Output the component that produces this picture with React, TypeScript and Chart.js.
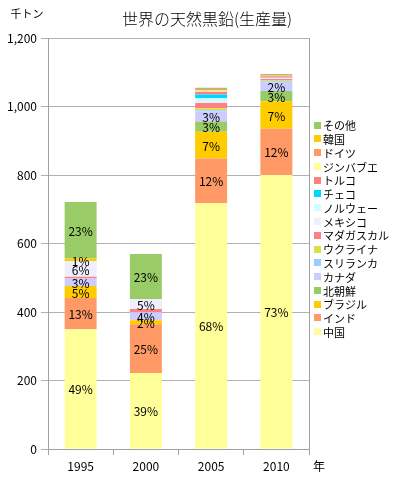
import React, { useEffect, useRef } from "react";
import { Chart, registerables } from "chart.js";
Chart.register(...registerables);

const years = ["1995", "2000", "2005", "2010"];
const seriesNames = ["中国", "インド", "ブラジル", "北朝鮮", "カナダ", "スリランカ", "ウクライナ", "マダガスカル", "メキシコ", "ノルウェー", "チェコ", "トルコ", "ジンバブエ", "ドイツ", "韓国", "その他"];
const china = [350, 222, 718, 800];
const india = [91, 142, 130, 135];
const brazil = [35, 12, 78, 80];
const northKorea = [0, 0, 30, 30];
const canada = [22, 23, 30, 25];
const sriLanka = [0, 0, 3, 4];
const ukraine = [0, 0, 6, 3];
const madagascar = [5, 10, 15, 3];
const mexico = [45, 29, 6, 3];
const norway = [0, 0, 9, 1];
const czech = [0, 0, 10, 0];
const turkey = [0, 0, 8, 4];
const zimbabwe = [0, 0, 4, 2];
const germany = [0, 0, 4, 2];
const korea = [8, 0, 0, 0];
const others = [165, 131, 4, 3];
const seriesValues = [china, india, brazil, northKorea, canada, sriLanka, ukraine, madagascar, mexico, norway, czech, turkey, zimbabwe, germany, korea, others];
const seriesColors = ["#FFFF99", "#FF9966", "#FFCC00", "#99CC66", "#CCCCFF", "#99CCFF", "#DDDD44", "#FF8080", "#EEEEFF", "#CCFFFF", "#00D8FF", "#FF8080", "#FFFF99", "#FF9966", "#FFCC00", "#99CC66"];
const labelledSeries = ["中国", "インド", "ブラジル", "北朝鮮", "カナダ", "メキシコ", "韓国", "その他"];
const yTicks = [0, 200, 400, 600, 800, 1000, 1200];
const titleText = "世界の天然黒鉛(生産量)";
const yUnit = "千トン";
const xUnit = "年";

const FONT = '"Noto Sans CJK JP", "DejaVu Sans", sans-serif';

export default function App() {
  const ref = useRef<HTMLCanvasElement | null>(null);
  useEffect(() => {
    if (!ref.current) return;
    const labelPlugin = {
      id: "pctLabels",
      afterDatasetsDraw(chart: any) {
        const ctx = chart.ctx;
        ctx.save();
        ctx.font = `12px ${FONT}`;
        ctx.fillStyle = "#000";
        ctx.textAlign = "center";
        ctx.textBaseline = "middle";
        chart.data.datasets.forEach((ds: any, i: number) => {
          const meta = chart.getDatasetMeta(i);
          meta.data.forEach((bar: any, j: number) => {
            const v = ds.data[j];
            let total = 0;
            chart.data.datasets.forEach((d: any) => (total += d.data[j]));
            const pct = (v / total) * 100;
            if (labelledSeries.includes(ds.label) && pct >= 1) {
              ctx.fillText(Math.round(pct) + "%", bar.x, (bar.y + bar.base) / 2 + 1);
            }
          });
        });
        ctx.restore();
      },
    };
    const decoPlugin = {
      id: "deco",
      afterDraw(chart: any) {
        const ctx = chart.ctx;
        const area = chart.chartArea;
        ctx.save();
        ctx.strokeStyle = "#A0A0A0";
        ctx.lineWidth = 1;
        ctx.beginPath();
        ctx.moveTo(area.right + 0.5, area.top);
        ctx.lineTo(area.right + 0.5, area.bottom);
        ctx.stroke();
        ctx.fillStyle = "#000";
        ctx.textBaseline = "middle";
        ctx.textAlign = "center";
        ctx.font = `300 16px ${FONT}`;
        ctx.fillText(titleText, 207, 19);
        ctx.font = `11px ${FONT}`;
        ctx.fillText(yUnit, 27, 14);
        ctx.font = `12px ${FONT}`;
        ctx.textAlign = "left";
        ctx.fillText(xUnit, area.right + 4, 466);
        const n = chart.data.datasets.length;
        const step = 13.78;
        const startY = 125;
        ctx.font = `11px ${FONT}`;
        for (let k = n - 1, idx = 0; k >= 0; k--, idx++) {
          const ds = chart.data.datasets[k];
          const y = startY + idx * step;
          ctx.fillStyle = ds.backgroundColor;
          ctx.fillRect(area.right + 5, Math.round(y - 3.5), 7, 7);
          ctx.fillStyle = "#000";
          ctx.fillText(ds.label, area.right + 14, y + 1);
        }
        ctx.restore();
      },
    };
    const chart = new Chart(ref.current, {
      type: "bar",
      data: {
        labels: years,
        datasets: seriesNames.map((name, i) => ({
          label: name,
          data: seriesValues[i],
          backgroundColor: seriesColors[i],
          borderWidth: 0,
          categoryPercentage: 1,
          barPercentage: 0.49,
        })),
      },
      options: {
        responsive: false,
        animation: false,
        events: [],
        layout: { padding: { top: 38, right: 87, bottom: 0, left: 0 } },
        plugins: { legend: { display: false }, title: { display: false }, tooltip: { enabled: false } },
        scales: {
          x: {
            stacked: true,
            grid: { display: true, drawOnChartArea: false, tickLength: 6, color: "#A0A0A0", offset: true },
            border: { color: "#A0A0A0" },
            ticks: { color: "#000", font: { size: 12, family: FONT }, padding: 4, maxRotation: 0 },
            afterFit(scale: any) { scale.height = 37; },
          },
          y: {
            stacked: true,
            min: 0,
            max: 1200,
            afterBuildTicks(scale: any) { scale.ticks = yTicks.map((v) => ({ value: v })); },
            grid: { color: "#B0B0B0", tickLength: 7 },
            border: { color: "#A0A0A0" },
            ticks: {
              color: "#000",
              font: { size: 12, family: FONT },
              padding: 4,
              callback: (v: any) => Number(v).toLocaleString("en-US"),
            },
            afterFit(scale: any) { scale.width = 48; },
          },
        },
      },
      plugins: [labelPlugin, decoPlugin],
    } as any);
    return () => chart.destroy();
  }, []);
  return (
    <div style={{ position: "fixed", left: 0, top: 0, width: 396, height: 486, background: "#fff" }}>
      <canvas ref={ref} width={396} height={486} style={{ width: 396, height: 486 }} />
    </div>
  );
}
